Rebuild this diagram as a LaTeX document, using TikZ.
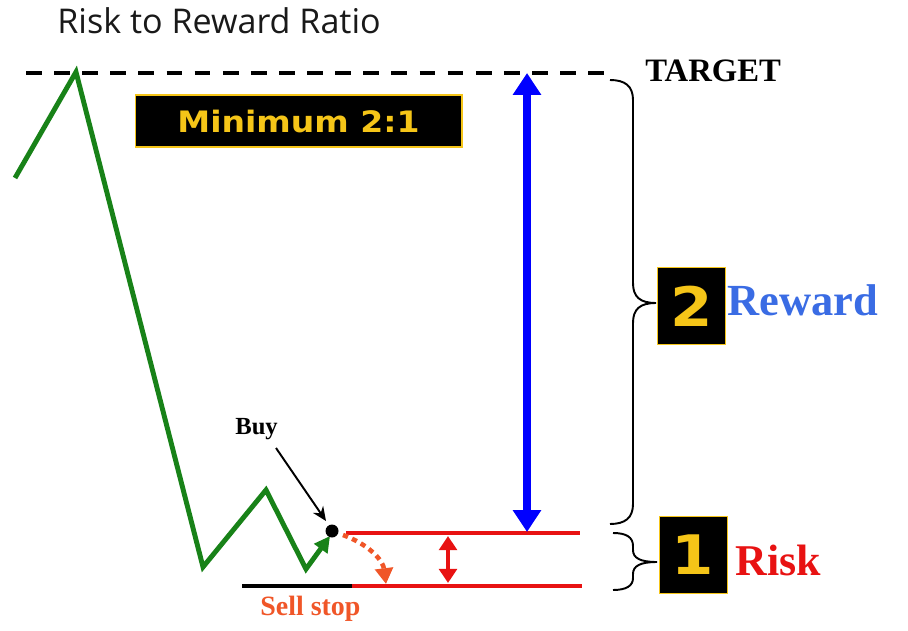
\documentclass[tikz,border=0pt]{standalone}
\usepackage{fontspec}
\setmainfont{Liberation Serif}
\newfontfamily\titlefont{Open Sans}
\newfontfamily\boxfont[FakeStretch=1.12]{DejaVu Sans}
\usetikzlibrary{arrows.meta}
\definecolor{chartgreen}{RGB}{24,130,24}
\definecolor{boxyellow}{RGB}{245,197,24}
\definecolor{riskred}{RGB}{232,18,18}
\definecolor{stoporange}{RGB}{240,86,40}
\definecolor{rewardblue}{RGB}{58,108,228}
\begin{document}
\begin{tikzpicture}[
            x=0.02cm, y=-0.02cm,
            numbox/.style = {fill=black, draw=boxyellow, line width=0.5pt, minimum width=1.36cm, minimum height=1.54cm,
                inner sep=0pt, text=boxyellow, font=\boxfont\bfseries\fontsize{31}{31}\selectfont},
            bracestyle/.style = {black, line width=1.1pt},
            redline/.style = {riskred, line width=2.8pt}
        ]
            \useasboundingbox (0,0) rectangle (908,631);

            \node[anchor=base west, inner sep=0pt, text=black!90, font=\titlefont\fontsize{19.4}{19.4}\selectfont] (title) at (57,34) {Risk to Reward Ratio};

            \coordinate (peak) at (76,72);
            \draw[black, dashed, line width=1.8pt, dash pattern=on 9pt off 7pt] (26,73) -- (605,73);
            \node[anchor=base west, inner sep=0pt, font=\bfseries\fontsize{18.6}{18.6}\selectfont] (target) at (645,82) {TARGET};

            \node[fill=black, draw=boxyellow, line width=0.6pt, minimum width=6.54cm, minimum height=1.04cm, inner sep=0pt,
                text=boxyellow, font=\boxfont\bfseries\fontsize{16.8}{16.8}\selectfont] (minimum) at (298.5,121) {Minimum 2:1};

            % price path
            \coordinate (entry) at (332,531);
            \coordinate (lastleg) at (330,536);
            \draw[chartgreen, line width=2.8pt, line join=miter, -{Triangle[length=9pt,width=9pt]}]
                (15,178) -- (peak) -- (203,567) -- (266,490) -- (306,569) -- (lastleg);
            \fill[black] (entry) circle[radius=0.13cm];

            \node[anchor=base west, inner sep=0pt, font=\bfseries\fontsize{14}{14}\selectfont] (buy) at (235,434) {Buy};
            \draw[black, line width=1.1pt, -{Stealth[length=8pt,width=7pt]}] (276,448) -- (326,521);

            % stop levels
            \draw[redline] (346,533) -- (580,533);
            \draw[black, line width=1.8pt] (242,586) -- (352,586);
            \draw[redline] (352,586) -- (582,586);
            \draw[riskred, line width=2.3pt, {Triangle[length=8pt,width=10pt]}-{Triangle[length=8pt,width=10pt]}] (448,536) -- (448,583);
            \draw[stoporange, line width=2.6pt, dash pattern=on 3pt off 2.6pt, -{Triangle[length=9pt,width=10pt]}]
                (343,535) .. controls (368,544) and (383,560) .. (386,584);
            \node[anchor=base west, inner sep=0pt, text=stoporange, font=\bfseries\fontsize{15.9}{15.9}\selectfont] (sellstop) at (260,615) {Sell stop};

            % reward
            \draw[blue, line width=4.6pt, {Triangle[length=12.5pt,width=15.5pt]}-{Triangle[length=12.5pt,width=15.5pt]}] (527,73) -- (527,532);

            % braces
            \draw[bracestyle] (610,80) .. controls (625,80) and (633,86) .. (633,100) -- (633,283)
                .. controls (633,297) and (640,303) .. (656,303) .. controls (640,303) and (633,309) .. (633,323)
                -- (633,504) .. controls (633,518) and (625,524) .. (610,524);
            \draw[bracestyle] (613,533) .. controls (626,533) and (633,537) .. (633,546) -- (633,550)
                .. controls (633,558) and (640,562) .. (657,562) .. controls (640,562) and (633,566) .. (633,574)
                -- (633,578) .. controls (633,586) and (626,590) .. (613,590);

            \node[numbox] (two) at (691.5,306) {2};
            \node[anchor=base west, inner sep=0pt, text=rewardblue, font=\bfseries\fontsize{25.3}{25.3}\selectfont] (reward) at (727,315) {Reward};
            \node[numbox] (one) at (693,555) {1};
            \node[anchor=base west, inner sep=0pt, text=riskred, font=\bfseries\fontsize{25}{25}\selectfont] (risk) at (735,575) {Risk};
        \end{tikzpicture}
\end{document}
